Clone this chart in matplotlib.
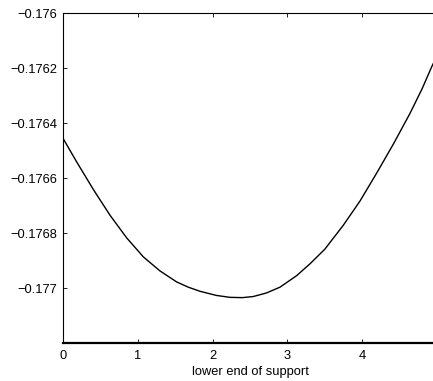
import matplotlib
matplotlib.use("Agg")
import matplotlib.pyplot as plt

plt.rcParams['font.family'] = ['Liberation Sans', 'DejaVu Sans']

# values
support_low = [0.0, 0.183, 0.405, 0.628, 0.852, 1.074, 1.297, 1.52, 1.675,
               1.832, 2.05, 2.233, 2.4, 2.544, 2.72, 2.901, 3.124, 3.302,
               3.5, 3.747, 3.97, 4.194, 4.42, 4.639, 4.8, 4.93, 4.98]
objective = [-0.1764556, -0.1765416, -0.1766415, -0.1767352, -0.176818,
             -0.1768868, -0.176938, -0.176978, -0.176997, -0.177012,
             -0.177027, -0.177034, -0.177035, -0.177031, -0.177018,
             -0.176997, -0.176955, -0.176912, -0.176859, -0.176772,
             -0.176684, -0.176582, -0.176475, -0.176365, -0.176276,
             -0.176195, -0.176167]
xticks = [0, 1, 2, 3, 4]
yticks = [-0.1772, -0.177, -0.1768, -0.1766, -0.1764, -0.1762, -0.176]
ytick_labels = ['', '\u22120.177', '\u22120.1768', '\u22120.1766',
                '\u22120.1764', '\u22120.1762', '\u22120.176']

fig = plt.figure(figsize=(4.33, 3.81), dpi=100)
W, H = 433, 381
ax = fig.add_axes([63 / W, 1 - 343 / H, (437 - 63) / W, (343 - 13) / H])

ax.plot(support_low, objective, color='black', lw=1.0)

ax.set_xlim(0, 5)
ax.set_ylim(-0.1772, -0.176)
ax.set_xticks(xticks)
ax.set_xticklabels([str(t) for t in xticks])
ax.set_yticks(yticks)
ax.set_yticklabels(ytick_labels)
ax.tick_params(direction='in', length=3, width=0.6, top=True, right=True,
               labelsize=9.3)
ax.tick_params(axis='y', pad=4)
ax.tick_params(axis='x', pad=5)
for s in ax.spines.values():
    s.set_linewidth(0.8)
ax.spines['bottom'].set_linewidth(1.6)
ax.set_xlabel('lower end of support', fontsize=9.3, labelpad=3)

fig.savefig('out.png', dpi=100)
